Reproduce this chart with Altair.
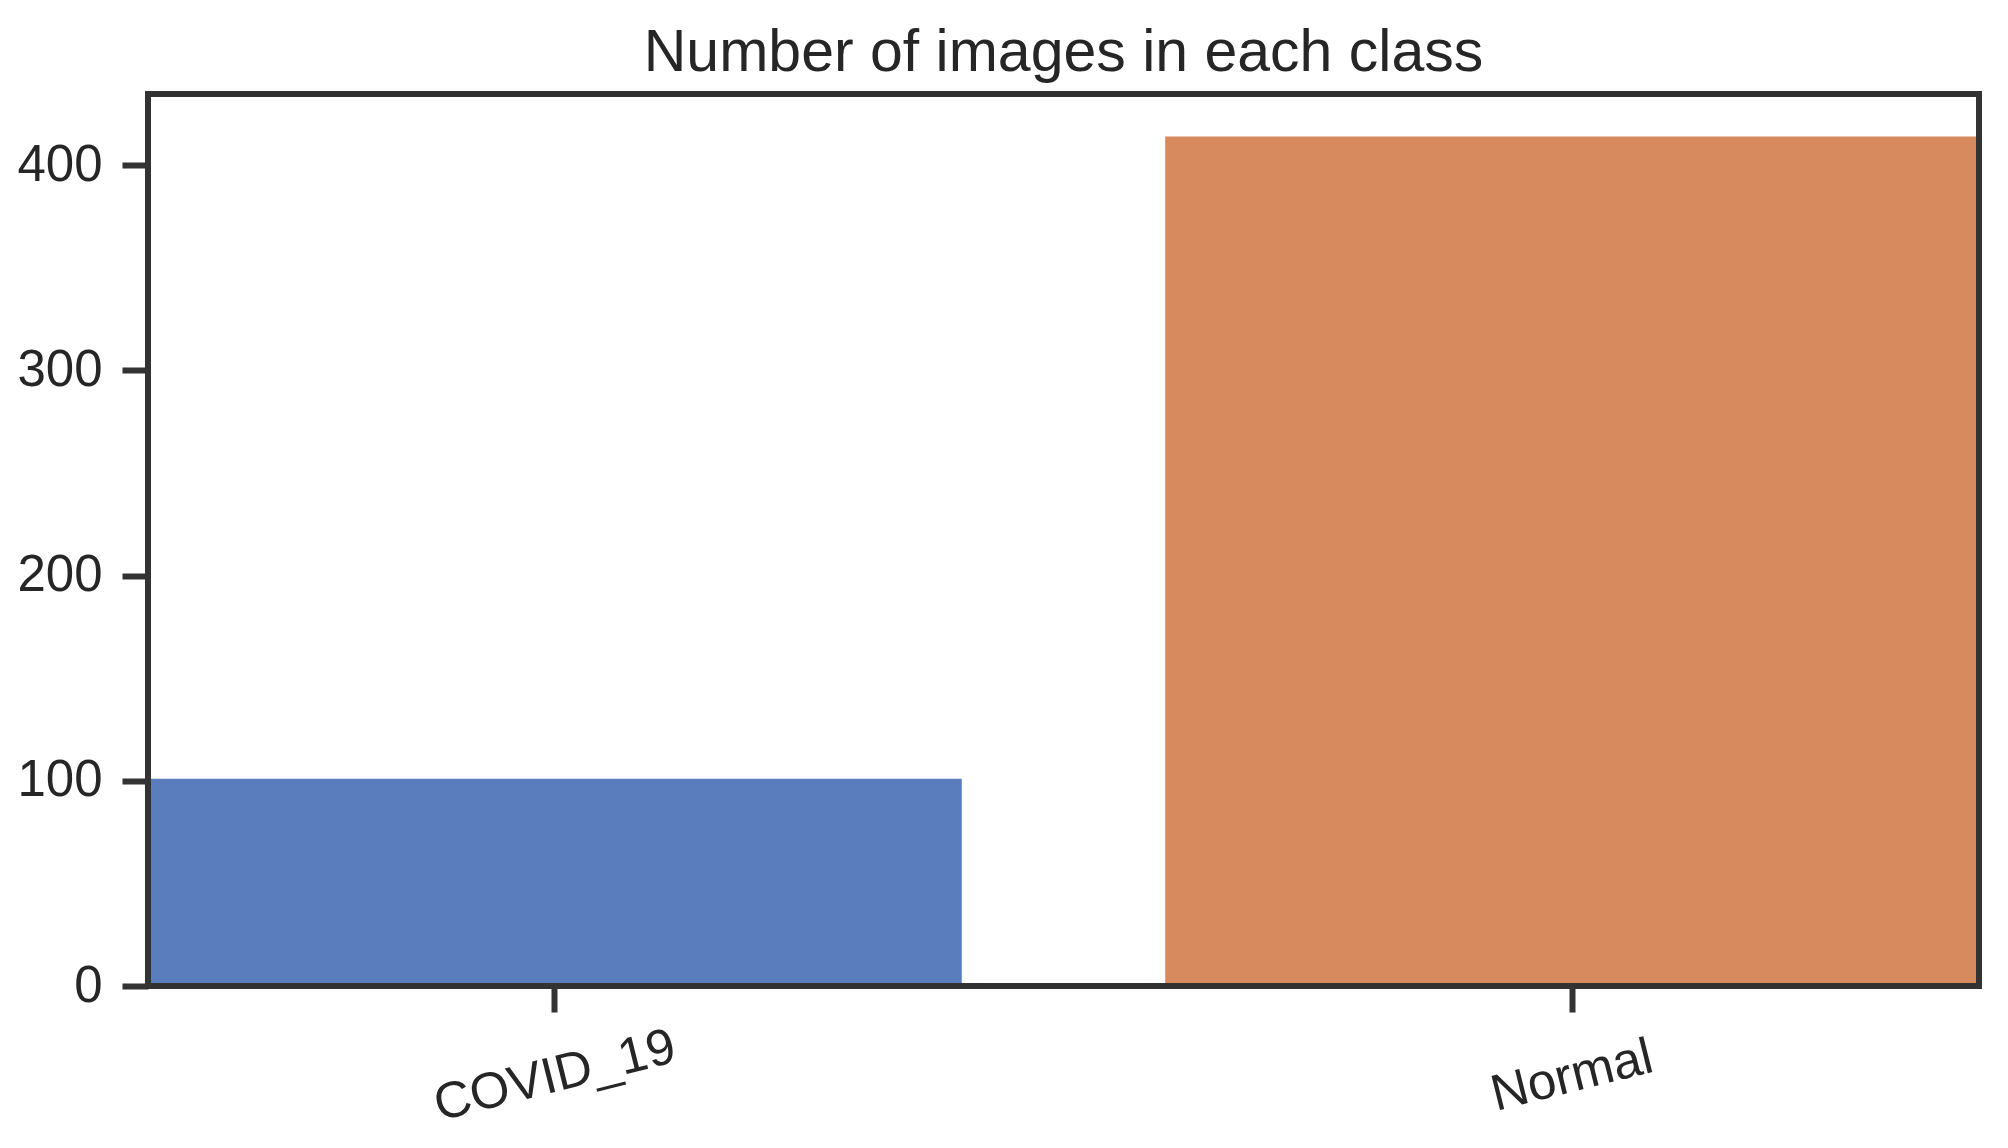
import altair as alt
import pandas as pd

classes = ["COVID_19", "Normal"]
counts = [101, 414]
bar_colors = ["#5a7dbe", "#d88a5f"]
y_ticks = [0, 100, 200, 300, 400]
y_max = 434.7

df = pd.DataFrame({"cls": classes, "count": counts})

FONT = "Liberation Sans"
INK = "#262626"
FRAME = "#333333"

bars = alt.Chart(df).mark_bar().encode(
    x=alt.X(
        "cls:N",
        sort=classes,
        title=None,
        scale=alt.Scale(paddingInner=0.2, paddingOuter=0),
        axis=alt.Axis(
            domain=False,
            grid=False,
            ticks=True,
            tickSize=26,
            tickWidth=6,
            tickColor=FRAME,
            labelAngle=346,
            labelAlign="center",
            labelBaseline="middle",
            labelPadding=64,
            labelLimit=600,
            labelFont=FONT,
            labelFontSize=51,
            labelColor=INK,
        ),
    ),
    y=alt.Y(
        "count:Q",
        title=None,
        scale=alt.Scale(domain=[0, y_max], nice=False, zero=True),
        axis=alt.Axis(
            values=y_ticks,
            domain=False,
            grid=False,
            tickSize=26,
            tickWidth=6,
            tickColor=FRAME,
            labelPadding=20,
            labelFont=FONT,
            labelFontSize=51,
            labelColor=INK,
        ),
    ),
    color=alt.Color("cls:N", scale=alt.Scale(domain=classes, range=bar_colors), legend=None),
)

frame = alt.Chart(pd.DataFrame({"f": [0]})).mark_rect(
    filled=False, stroke=FRAME, strokeWidth=6
).encode(
    x=alt.value(0),
    x2=alt.value("width"),
    y=alt.value(0),
    y2=alt.value("height"),
)

chart = alt.layer(bars, frame).properties(
    width=1831,
    height=892,
    title=alt.TitleParams(
        "Number of images in each class",
        font=FONT,
        fontSize=59,
        fontWeight="normal",
        color=INK,
        anchor="middle",
        frame="group",
        offset=8,
    ),
    autosize=alt.AutoSizeParams(type="none"),
    padding={"left": 140, "top": 86, "right": 20, "bottom": 140},
    background="white",
).configure_view(
    strokeWidth=0,
)

chart.save("out.html", embed_options={"renderer": "svg", "actions": False})
